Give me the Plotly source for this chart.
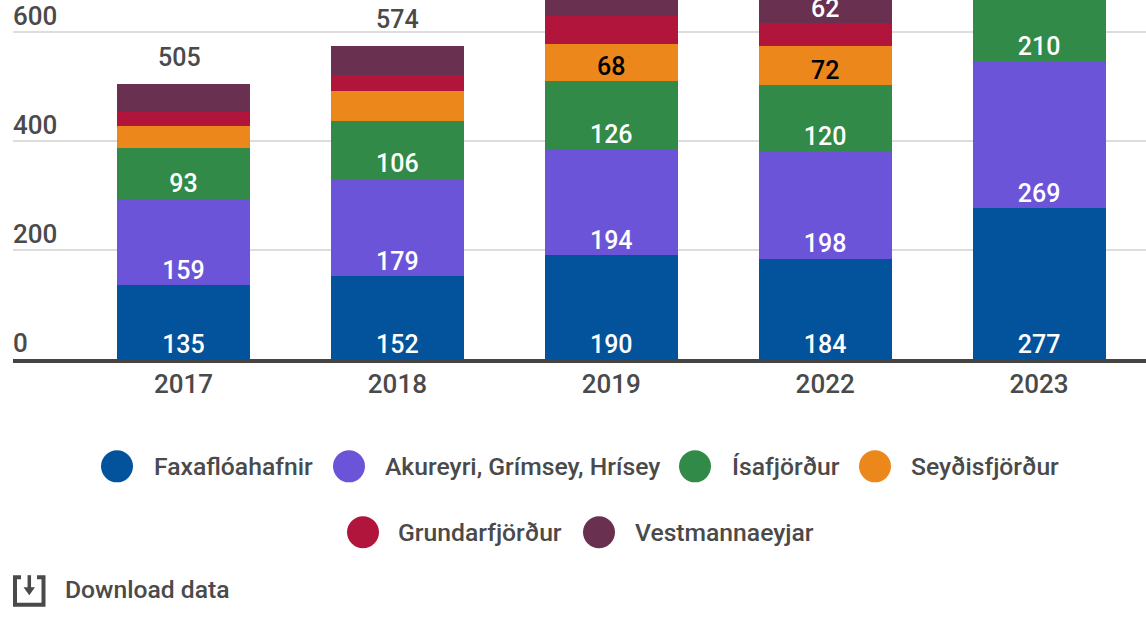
import plotly.graph_objects as go

years = ["2017", "2018", "2019", "2022", "2023"]
faxafloahafnir = [135, 152, 190, 184, 277]
akureyri = [159, 179, 194, 198, 269]
isafjordur = [93, 106, 126, 120, 210]
seydisfjordur = [41, 55, 68, 72, 70]
grundarfjordur = [25, 29, 51, 42, 50]
vestmannaeyjar = [52, 53, 55, 62, 65]
totals_visible = [505, 574]
totals_shift = [-4, 0]

lab_fax = ["135", "152", "190", "184", "277"]
lab_aku = ["159", "179", "194", "198", "269"]
lab_isa = ["93", "106", "126", "120", "210"]
lab_sey = ["", "", "68", "72", ""]
lab_gru = ["", "", "", "", ""]
lab_ves = ["", "", "", "62", ""]

series = [
    ("Faxaflóahafnir", faxafloahafnir, lab_fax, "#02539C", "white"),
    ("Akureyri, Grímsey, Hrísey", akureyri, lab_aku, "#6C54D9", "white"),
    ("Ísafjörður", isafjordur, lab_isa, "#318A47", "white"),
    ("Seyðisfjörður", seydisfjordur, lab_sey, "#EC871C", "black"),
    ("Grundarfjörður", grundarfjordur, lab_gru, "#B2153C", "white"),
    ("Vestmannaeyjar", vestmannaeyjar, lab_ves, "#693050", "white"),
]

W, H = 1146, 619
L, BASE, PW = 13, 359.5, 1133
FONT = "Roboto"
GREY = "#4a4a4a"
WEIGHT = 500


def px(x):
    return (x - L) / PW


def py(y):
    return (BASE - y) / BASE


fig = go.Figure()
for name, vals, labs, col, tc in series:
    fig.add_trace(go.Bar(
        x=years, y=vals, name=name, marker=dict(color=col, line_width=0),
        width=0.6215, showlegend=False,
    ))

# Segment labels sit just above each segment's base, from the stacked values.
bases = [0] * len(years)
for name, vals, labs, col, tc in series:
    fig.add_trace(go.Scatter(
        x=years, y=bases, mode="text", text=labs, textposition="top center", cliponaxis=True,
        textfont=dict(family=FONT, size=25, color=tc, weight=WEIGHT), showlegend=False, hoverinfo="skip",
    ))
    bases = [b + v for b, v in zip(bases, vals)]

shapes = []
annotations = []
for i, (total, shift) in enumerate(zip(totals_visible, totals_shift)):
    annotations.append(dict(text=str(total), x=i, y=total, xref="x", yref="y", showarrow=False,
                            yanchor="bottom", yshift=10, xshift=shift,
                            font=dict(family=FONT, size=25, color=GREY, weight=WEIGHT)))
legend_pos = [(117, 467, 154), (349, 467, 385), (695, 467, 732), (875, 467, 911),
              (363, 533, 398), (599, 533, 635)]
for (name, _, _, col, _), (cx, cy, tx) in zip(series, legend_pos):
    shapes.append(dict(type="circle", xref="paper", yref="paper", x0=px(cx - 16), x1=px(cx + 16),
                       y0=py(cy + 16), y1=py(cy - 16), fillcolor=col, line_width=0))
    annotations.append(dict(text=name, xref="paper", yref="paper", x=px(tx), y=py(cy), xanchor="left",
                            yanchor="middle", showarrow=False, xshift=-2,
                            font=dict(family=FONT, size=24.7, color=GREY, weight=WEIGHT)))
annotations.append(dict(text="Download data", xref="paper", yref="paper", x=px(65), y=py(590),
                        xanchor="left", yanchor="middle", showarrow=False, xshift=-2,
                        font=dict(family=FONT, size=24.7, color=GREY, weight=WEIGHT)))
icon = (f"M {px(21)},{py(578)} L {px(15)},{py(578)} L {px(15)},{py(605.5)} L {px(43.5)},{py(605.5)} "
        f"L {px(43.5)},{py(578)} L {px(37)},{py(578)}")
shapes.append(dict(type="path", xref="paper", yref="paper", path=icon, line=dict(color=GREY, width=4)))
shapes.append(dict(type="line", xref="paper", yref="paper", x0=px(29.3), x1=px(29.3), y0=py(576), y1=py(591),
                   line=dict(color=GREY, width=3.5)))
shapes.append(dict(type="path", xref="paper", yref="paper", fillcolor=GREY, line_width=0,
                   path=f"M {px(23.5)},{py(588)} L {px(35)},{py(588)} L {px(29.3)},{py(596)} Z"))

fig.update_layout(
    width=W, height=H, barmode="stack", plot_bgcolor="white", paper_bgcolor="white",
    margin=dict(l=L, r=0, t=0, b=H - BASE, pad=0), showlegend=False,
    font=dict(family=FONT, size=25, color=GREY), shapes=shapes, annotations=annotations,
    xaxis=dict(type="category", range=[-0.797, 4.5], showgrid=False, showline=True, linecolor="#444444",
               linewidth=3.5, ticks="", tickfont=dict(family=FONT, size=26, color=GREY, weight=WEIGHT),
               ticklabelstandoff=-1),
    yaxis=dict(range=[0, 658.6], tickvals=[0, 200, 400, 600], ticktext=["0", "200", "400", "600"],
               showgrid=True, gridcolor="#dddddd", gridwidth=2, zeroline=False, showline=False, ticks="",
               ticklabelposition="inside", ticklabelshift=-16, ticklabelstandoff=-3,
               tickfont=dict(family=FONT, size=26, color=GREY, weight=WEIGHT)),
)
fig.write_html("out.html", post_script="document.body.style.margin='0';", config=dict(displayModeBar=False))
